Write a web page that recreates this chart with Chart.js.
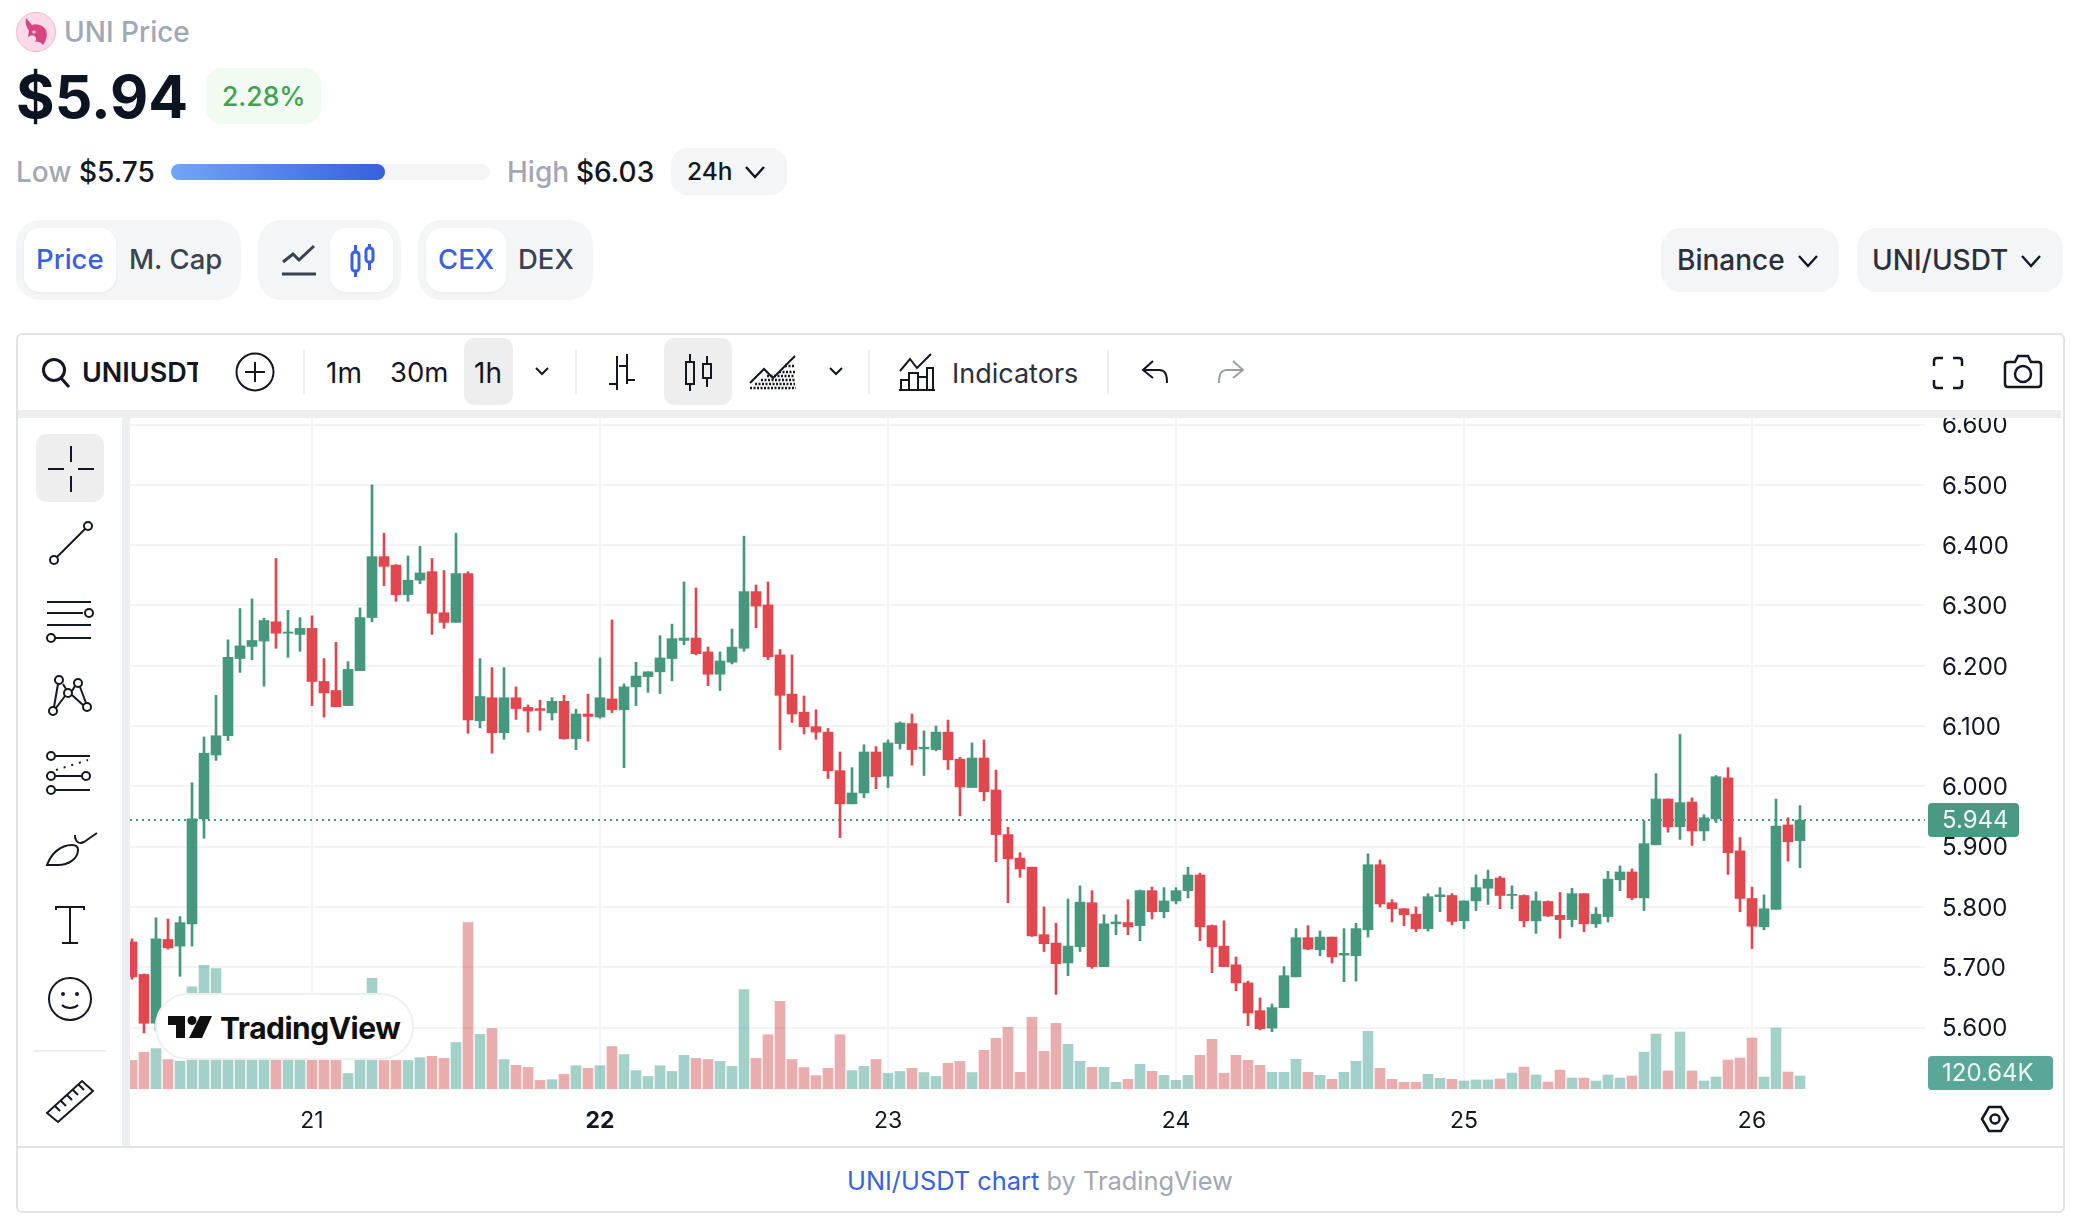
<!DOCTYPE html>
<html>
<head>
<meta charset="utf-8">
<title>UNI Price</title>
<script src="https://cdn.jsdelivr.net/npm/chart.js@4"></script>
<style>
  html, body { margin: 0; padding: 0; background: #fff; }
  body { width: 2078px; height: 1226px; position: relative; overflow: hidden; font-family: Inter, "Noto Sans", sans-serif; color: #131722; }
  .a { position: absolute; white-space: nowrap; }
  .t { position: absolute; white-space: nowrap; line-height: 1; transform: translateY(-50%); }
  .g { color: #a1a7b3; }
  .blue { color: #3861e0; }
  .pill { position: absolute; background: #f3f5f7; }
  .on { position: absolute; background: #fff; border-radius: 16px; box-shadow: 0 1px 3px rgba(0,0,0,.05); }
  .sep { position: absolute; width: 2px; background: #eff0f2; top: 350px; height: 44px; }
  svg.i { position: absolute; fill: none; stroke: #131722; stroke-width: 2; overflow: visible; }
  #wrap { position: absolute; left: 130px; top: 418px; width: 1925px; height: 728px; }
</style>
</head>
<body>

<!-- cabecalho -->
<svg class="i" style="left:16px;top:12px;stroke:none" width="40" height="40" viewBox="0 0 40 40">
  <circle cx="20" cy="20" r="19.500" fill="#fbd9e9" stroke="#f3b6d3" stroke-width="1"/>
  <path d="M10 6l6 7c5-2 11 0 14 5 2 5 0 11-3 15-2-3-5-4-8-3 2-3 1-6-3-7l-4 2 1-6c-3-4-4-9-3-13z" fill="#d6457f"/>
  <circle cx="18" cy="20" r="1.600" fill="#fbd9e9"/>
</svg>
<div class="t g" style="left:64px;top:32px;font-size:28px;font-weight:500">UNI Price</div>
<div class="t" style="left:16px;top:96px;font-size:59px;font-weight:700;color:#0d1421">$5.94</div>
<div class="pill" style="left:206px;top:68px;width:115px;height:56px;border-radius:16px;background:#f0fbf1"></div>
<div class="t" style="left:222px;top:96px;font-size:26.5px;font-weight:500;color:#3fa34d">2.28%</div>

<div class="t g" style="left:16px;top:172px;font-size:28px;font-weight:500">Low</div>
<div class="t" style="left:79px;top:172px;font-size:28px;font-weight:500">$5.75</div>
<div class="pill" style="left:171px;top:164px;width:319px;height:16px;border-radius:8px"></div>
<div class="a" style="left:171px;top:164px;width:214px;height:16px;border-radius:8px;background:linear-gradient(90deg,#72a6f6,#3760dc)"></div>
<div class="t g" style="left:507px;top:172px;font-size:28px;font-weight:500">High</div>
<div class="t" style="left:576px;top:172px;font-size:28px;font-weight:500">$6.03</div>
<div class="pill" style="left:671px;top:148px;width:116px;height:47px;border-radius:16px"></div>
<div class="t" style="left:687px;top:171px;font-size:24.500px;font-weight:500">24h</div>
<svg class="i" style="left:744px;top:165px" width="22" height="14"><path d="M2 2l9 10 9-10" stroke-width="2.400"/></svg>

<!-- abas -->
<div class="pill" style="left:16px;top:220px;width:225px;height:80px;border-radius:24px"></div>
<div class="on" style="left:24px;top:228px;width:92px;height:64px"></div>
<div class="t blue" style="left:36px;top:260px;font-size:27.500px;font-weight:500">Price</div>
<div class="t" style="left:129px;top:260px;font-size:27.500px;font-weight:500;color:#3b4250">M. Cap</div>

<div class="pill" style="left:258px;top:220px;width:143px;height:80px;border-radius:24px"></div>
<div class="on" style="left:330px;top:228px;width:63px;height:64px"></div>
<svg class="i" style="left:281px;top:244px;stroke:#3b4250;stroke-width:3" width="36" height="32"><path d="M2 18l10-8 6 6L33 2M1 30h34"/></svg>
<svg class="i" style="left:350px;top:244px;stroke:#3861e0;stroke-width:3" width="26" height="34">
  <rect x="2" y="8" width="7" height="19" rx="3"/><rect x="16" y="4" width="7" height="14" rx="3"/><path d="M5.500 1v7M5.500 27v6M19.500 0v4M19.500 18v8"/>
</svg>

<div class="pill" style="left:418px;top:220px;width:175px;height:80px;border-radius:24px"></div>
<div class="on" style="left:426px;top:228px;width:80px;height:64px"></div>
<div class="t blue" style="left:438px;top:260px;font-size:27.500px;font-weight:500">CEX</div>
<div class="t" style="left:518px;top:260px;font-size:27.500px;font-weight:500;color:#3b4250">DEX</div>

<div class="pill" style="left:1661px;top:228px;width:178px;height:64px;border-radius:20px"></div>
<div class="t" style="left:1677px;top:260px;font-size:28px;font-weight:500;color:#2a303c">Binance</div>
<svg class="i" style="left:1797px;top:254px" width="22" height="14"><path d="M2 2l9 10 9-10" stroke-width="2.400"/></svg>
<div class="pill" style="left:1857px;top:228px;width:206px;height:64px;border-radius:20px"></div>
<div class="t" style="left:1872px;top:260px;font-size:28px;font-weight:500;color:#2a303c">UNI/USDT</div>
<svg class="i" style="left:2020px;top:254px" width="22" height="14"><path d="M2 2l9 10 9-10" stroke-width="2.400"/></svg>

<!-- caixa do grafico -->
<div class="a" style="left:16px;top:333px;width:2045px;height:876px;border:2px solid #e0e3e6;border-radius:6px"></div>
<div id="wrap"><canvas id="graficoUni"></canvas></div>
<div class="a" style="left:18px;top:410px;width:2043px;height:8px;background:#eceef0"></div>
<div class="a" style="left:122px;top:410px;width:8px;height:736px;background:#eceef0"></div>
<div class="a" style="left:18px;top:1146px;width:2045px;height:2px;background:#e0e3e6"></div>

<!-- barra superior -->
<svg class="i" style="left:42px;top:358px;stroke-width:3" width="28" height="30"><circle cx="12" cy="12" r="10.500"/><path d="M19 20l8 9"/></svg>
<div class="a" style="left:82px;top:357px;width:116px;height:32px;overflow:hidden;font-size:27px;line-height:32px;font-weight:600">UNIUSDT</div>
<svg class="i" style="left:236px;top:353px" width="38" height="38"><circle cx="19" cy="19" r="18.500"/><path d="M19 9v20M9 19h20"/></svg>
<div class="sep" style="left:303px"></div>
<div class="t" style="left:326px;top:373px;font-size:28px">1m</div>
<div class="t" style="left:390px;top:373px;font-size:27.500px">30m</div>
<div class="a" style="left:464px;top:338px;width:49px;height:67px;border-radius:10px;background:#eeeeee"></div>
<div class="t" style="left:474px;top:373px;font-size:28px">1h</div>
<svg class="i" style="left:535px;top:367px" width="14" height="9"><path d="M1 1l6 6 6-6"/></svg>
<div class="sep" style="left:575px"></div>
<svg class="i" style="left:605px;top:354px" width="32" height="38"><path d="M12 2v34M22 0v30M4 30h8M22 12h-8M22 26h8"/></svg>
<div class="a" style="left:664px;top:338px;width:68px;height:67px;border-radius:10px;background:#eeeeee"></div>
<svg class="i" style="left:685px;top:352px" width="28" height="40"><rect x="1" y="10" width="8" height="22"/><rect x="18" y="12" width="8" height="14"/><path d="M5 2v8M5 32v7M22 4v8M22 26v9"/></svg>
<svg class="i" style="left:749px;top:353px" width="48" height="36"><path d="M1 30l14-14 9 9L46 3"/><path d="M1 35h46M6 31h40M12 27h34M18 23h28M30 19h16M36 13h10" stroke-width="2.500" stroke-dasharray="2 1.500"/></svg>
<svg class="i" style="left:829px;top:367px" width="14" height="9"><path d="M1 1l6 6 6-6"/></svg>
<div class="sep" style="left:868px"></div>
<svg class="i" style="left:899px;top:353px" width="36" height="38"><path d="M1 18l10-12 7 9L32 1"/><path d="M2 37V27h8v10M10 37V20h9v17M19 37V24h9v13M28 37V15h6v22M0 37h36"/></svg>
<div class="t" style="left:952px;top:373px;font-size:27px;color:#2a303c">Indicators</div>
<div class="sep" style="left:1107px"></div>
<svg class="i" style="left:1141px;top:359px" width="28" height="26"><path d="M12 2L2 11l10 8M2 11h16c6 0 8 4 8 13"/></svg>
<svg class="i" style="left:1217px;top:359px;stroke:#9aa0aa" width="28" height="26"><path d="M16 2l10 9-10 8M26 11H10c-6 0-8 4-8 13"/></svg>
<svg class="i" style="left:1932px;top:356px;stroke-width:2.500" width="32" height="34"><path d="M2 10V5q0-3 3-3h6M21 2h6q3 0 3 3v5M30 24v5q0 3-3 3h-6M11 32H5q-3 0-3-3v-5"/></svg>
<svg class="i" style="left:2003px;top:354px;stroke-width:2.500" width="40" height="36"><path d="M2 11q0-3 3-3h7l3-6h10l3 6h7q3 0 3 3v19q0 3-3 3H5q-3 0-3-3z"/><circle cx="20" cy="20" r="8"/></svg>

<!-- barra lateral -->
<div class="a" style="left:36px;top:434px;width:68px;height:68px;border-radius:10px;background:#eeeeee"></div>
<svg class="i" style="left:48px;top:446px" width="46" height="46"><path d="M23 0v16M23 30v16M0 23h16M30 23h16"/></svg>
<svg class="i" style="left:48px;top:520px" width="46" height="46"><circle cx="6" cy="40" r="4"/><circle cx="40" cy="6" r="4"/><path d="M9 37L37 9"/></svg>
<svg class="i" style="left:45px;top:600px" width="50" height="42"><path d="M2 2h44M2 13h36M2 25h44M10 38h36"/><circle cx="44" cy="13" r="4"/><circle cx="6" cy="38" r="4"/></svg>
<svg class="i" style="left:47px;top:674px" width="46" height="44"><circle cx="12" cy="6" r="4"/><circle cx="31" cy="9" r="4"/><circle cx="21" cy="19" r="4"/><circle cx="6" cy="37" r="4"/><circle cx="40" cy="33" r="4"/><path d="M11 10L7 33M9 34L18 22M16 10L19 15M25 17L28 12M33 13L39 29M25 21L36 31"/></svg>
<svg class="i" style="left:46px;top:752px" width="48" height="44"><circle cx="5" cy="4" r="4"/><circle cx="5" cy="24" r="4"/><circle cx="5" cy="38" r="4"/><circle cx="40" cy="24" r="4"/><path d="M10 4h34M10 24h26M10 38h34"/><path d="M10 18L42 8" stroke-dasharray="2 6"/></svg>
<svg class="i" style="left:46px;top:830px" width="52" height="40"><path d="M1 35C5 24 14 15 26 15c4 0 6 2 6 5 0 9-10 15-20 15z"/><path d="M29 5c0 8 5 9 9 7L51 3"/></svg>
<svg class="i" style="left:55px;top:905px" width="30" height="40"><path d="M1 5V2h28v3M15 2v36M7 38h16"/></svg>
<svg class="i" style="left:48px;top:977px" width="44" height="44"><circle cx="22" cy="22" r="21"/><circle cx="15" cy="17" r="1" /><circle cx="29" cy="17" r="1"/><path d="M14 28c4 4 12 4 16 0"/></svg>
<div class="a" style="left:34px;top:1050px;width:72px;height:2px;background:#eceef0"></div>
<svg class="i" style="left:46px;top:1079px" width="48" height="44"><path d="M1 34L36 2l11 10-35 31zM9 27l5 5M15 22l5 5M21 16l5 5M27 11l5 5M33 6l5 5"/></svg>

<!-- marca d'agua -->
<div class="a" style="left:155px;top:993px;width:255px;height:63px;background:#fff;border:2px solid #eeeff1;border-radius:33px"></div>
<svg class="i" style="left:168px;top:1016px;stroke:none" width="44" height="22" viewBox="0 0 44 22"><path d="M0 0h17v22H8V9H0zM32 0h12l-10 22H21z" fill="#0f0f0f"/><circle cx="24" cy="4.500" r="4.500" fill="#0f0f0f"/></svg>
<div class="t" style="left:220px;top:1028px;font-size:30px;font-weight:700;letter-spacing:-.5px;color:#0f0f0f">TradingView</div>

<!-- engrenagem -->
<svg class="i" style="left:1981px;top:1106px;stroke-width:2.500" width="28" height="26"><path d="M1 13L8 1h12l7 12-7 12H8z"/><circle cx="14" cy="13" r="4.500"/></svg>

<!-- rodape -->
<div class="t" style="left:847px;top:1181px;font-size:25.400px"><span class="blue">UNI/USDT chart</span> <span class="g">by TradingView</span></div>

<script>
// rotulos dos eixos
const dayPositions = [15, 39, 63, 87, 111, 135];
const dayLabels = ["21", "22", "23", "24", "25", "26"];
const priceTicks = [5.6, 5.7, 5.8, 5.9, 6.0, 6.1, 6.2, 6.3, 6.4, 6.5, 6.6];

// velas de 1h
const opens = [5.742,5.688,5.607,5.746,5.735,5.772,5.946,6.052,6.084,6.212,6.232,6.241,6.273,6.254,6.252,6.262,6.174,6.159,6.134,6.192,6.280,6.381,6.367,6.318,6.342,6.356,6.288,6.272,6.353,6.109,6.147,6.089,6.147,6.131,6.129,6.122,6.141,6.079,6.120,6.115,6.145,6.127,6.165,6.182,6.190,6.212,6.242,6.246,6.223,6.186,6.206,6.229,6.323,6.301,6.218,6.153,6.123,6.099,6.090,6.026,5.971,5.989,6.057,6.017,6.071,6.104,6.062,6.061,6.090,6.045,5.998,6.047,5.994,5.920,5.881,5.866,5.754,5.740,5.707,5.734,5.807,5.701,5.772,5.774,5.769,5.827,5.792,5.810,5.827,5.853,5.769,5.735,5.704,5.674,5.628,5.599,5.633,5.684,5.749,5.729,5.750,5.720,5.719,5.762,5.870,5.807,5.797,5.788,5.764,5.817,5.819,5.777,5.810,5.831,5.848,5.819,5.819,5.777,5.809,5.786,5.779,5.822,5.772,5.784,5.845,5.858,5.815,5.903,5.979,5.933,5.974,5.926,5.946,6.014,5.893,5.814,5.767,5.796,5.936,5.910];
const highs = [5.747,5.689,5.782,5.780,5.784,6.006,6.082,6.151,6.243,6.295,6.311,6.279,6.378,6.292,6.280,6.283,6.212,6.239,6.207,6.296,6.500,6.420,6.368,6.382,6.398,6.378,6.358,6.420,6.356,6.212,6.197,6.197,6.165,6.135,6.143,6.147,6.151,6.128,6.153,6.213,6.276,6.170,6.206,6.190,6.250,6.269,6.339,6.329,6.231,6.223,6.261,6.415,6.334,6.339,6.227,6.218,6.150,6.127,6.096,6.057,6.031,6.069,6.066,6.077,6.107,6.120,6.092,6.100,6.110,6.048,6.072,6.077,6.027,5.932,5.890,5.866,5.800,5.773,5.813,5.835,5.827,5.787,5.787,5.812,5.828,5.833,5.832,5.832,5.866,5.856,5.770,5.777,5.717,5.677,5.649,5.639,5.701,5.764,5.769,5.760,5.750,5.764,5.773,5.888,5.878,5.812,5.797,5.800,5.822,5.832,5.822,5.810,5.853,5.861,5.851,5.835,5.820,5.825,5.810,5.824,5.831,5.822,5.799,5.859,5.868,5.863,5.943,6.021,5.979,6.086,5.981,5.953,6.018,6.031,5.915,5.833,5.820,5.979,5.948,5.968];
const lows = [5.680,5.591,5.595,5.730,5.685,5.735,5.914,6.043,6.076,6.189,6.210,6.166,6.229,6.214,6.224,6.134,6.115,6.132,6.134,6.192,6.273,6.333,6.307,6.307,6.336,6.252,6.262,6.272,6.088,6.097,6.055,6.078,6.111,6.090,6.093,6.110,6.078,6.061,6.075,6.113,6.122,6.031,6.134,6.156,6.154,6.175,6.235,6.218,6.167,6.159,6.203,6.224,6.263,6.210,6.061,6.106,6.087,6.078,6.013,5.915,5.971,5.981,5.996,5.998,6.062,6.035,6.018,6.059,6.028,5.951,5.998,5.976,5.875,5.807,5.849,5.751,5.726,5.655,5.686,5.726,5.698,5.701,5.754,5.754,5.744,5.780,5.782,5.805,5.815,5.744,5.691,5.701,5.661,5.603,5.596,5.593,5.633,5.684,5.729,5.719,5.707,5.676,5.677,5.750,5.800,5.775,5.769,5.759,5.760,5.792,5.770,5.764,5.794,5.804,5.797,5.797,5.767,5.756,5.784,5.748,5.767,5.759,5.766,5.775,5.827,5.812,5.794,5.903,5.924,5.912,5.902,5.910,5.940,5.854,5.792,5.731,5.762,5.796,5.876,5.865];
const closes = [5.684,5.607,5.747,5.732,5.774,5.946,6.055,6.084,6.214,6.233,6.242,6.275,6.254,6.256,6.262,6.174,6.155,6.132,6.194,6.280,6.381,6.365,6.318,6.342,6.354,6.287,6.272,6.353,6.110,6.149,6.089,6.147,6.129,6.125,6.126,6.141,6.079,6.120,6.116,6.147,6.127,6.165,6.183,6.190,6.213,6.245,6.246,6.220,6.186,6.208,6.231,6.323,6.299,6.215,6.151,6.120,6.099,6.090,6.026,5.971,5.989,6.057,6.016,6.072,6.105,6.061,6.065,6.090,6.044,5.999,6.047,5.991,5.920,5.880,5.863,5.752,5.739,5.706,5.735,5.808,5.701,5.772,5.775,5.767,5.827,5.792,5.810,5.827,5.853,5.767,5.734,5.701,5.674,5.624,5.598,5.633,5.686,5.749,5.730,5.750,5.717,5.723,5.764,5.870,5.805,5.797,5.787,5.764,5.817,5.820,5.776,5.810,5.832,5.846,5.819,5.821,5.777,5.810,5.785,5.779,5.822,5.772,5.788,5.846,5.858,5.815,5.905,5.979,5.933,5.973,5.926,5.948,6.016,5.890,5.814,5.768,5.797,5.934,5.908,5.944];
// volume em milhares
const volumes = [265,341,375,273,258,947,1148,1117,334,390,325,408,353,306,371,427,334,278,144,297,1026,265,265,265,291,303,284,432,1545,508,561,273,220,200,80,87,135,216,192,216,394,319,171,117,216,163,313,284,274,256,210,923,284,504,813,274,199,124,192,504,171,210,274,146,163,192,153,117,238,256,153,359,470,573,155,665,350,610,415,257,201,201,62,90,229,164,127,81,127,313,461,146,313,266,220,155,155,276,155,127,90,155,257,535,192,90,62,62,136,99,90,74,84,84,93,148,204,130,65,176,102,102,74,130,102,121,343,510,167,529,167,74,111,269,288,473,111,566,158,120.64];
const lastPrice = 5.944;
const lastVolume = "120.64K";

const verde = "#45987d";
const vermelho = "#e0474e";
const verdeVol = "rgba(51,153,137,.45)";
const vermelhoVol = "rgba(208,73,73,.45)";

const subiu = closes.map((c, i) => c >= opens[i]);
const corVela = subiu.map((s) => (s ? verde : vermelho));
const corVolume = subiu.map((s) => (s ? verdeVol : vermelhoVol));

const xMin = -0.1667;
const xMax = 149.417;

// etiquetas de preco e volume na escala da direita
const etiquetas = {
    id: "etiquetas",
    afterDatasetsDraw(chart) {
        const ctx = chart.ctx;
        const area = chart.chartArea;
        const yPreco = chart.scales.y.getPixelForValue(lastPrice);
        ctx.save();
        ctx.fillStyle = "#4a9a83";
        ctx.beginPath();
        ctx.roundRect(area.right + 3, yPreco - 17, 91, 34, 4);
        ctx.fill();
        ctx.fillStyle = "#5aa79a";
        ctx.beginPath();
        ctx.roundRect(area.right + 3, area.bottom - 33, 125, 34, 4);
        ctx.fill();
        ctx.fillStyle = "#eef8f5";
        ctx.font = "24px Inter";
        ctx.textBaseline = "middle";
        ctx.fillText(lastPrice.toFixed(3), area.right + 17, yPreco + 1);
        ctx.fillText(lastVolume, area.right + 17, area.bottom - 15);
        ctx.restore();
    }
};

new Chart(document.getElementById("graficoUni"), {
    type: "bar",
    data: {
        datasets: [
            {
                type: "line",
                data: [{ x: xMin, y: lastPrice }, { x: xMax, y: lastPrice }],
                borderColor: "#45987d",
                borderWidth: 2,
                borderDash: [2, 4],
                pointRadius: 0,
                yAxisID: "y",
                order: 3
            },
            {
                data: volumes.map((v, i) => ({ x: i, y: v })),
                backgroundColor: corVolume,
                barThickness: 10,
                grouped: false,
                yAxisID: "yVol",
                order: 4
            },
            {
                data: highs.map((h, i) => ({ x: i, y: [lows[i], h] })),
                backgroundColor: corVela,
                barThickness: 2,
                grouped: false,
                yAxisID: "y",
                order: 2
            },
            {
                data: opens.map((o, i) => ({ x: i, y: [o, closes[i]] })),
                backgroundColor: corVela,
                barThickness: 10,
                grouped: false,
                yAxisID: "y",
                order: 1
            }
        ]
    },
    options: {
        responsive: true,
        maintainAspectRatio: false,
        animation: false,
        layout: { padding: 0 },
        plugins: { legend: { display: false }, tooltip: { enabled: false } },
        scales: {
            x: {
                type: "linear",
                offset: false,
                min: xMin,
                max: xMax,
                border: { display: false },
                grid: { color: "#f2f3f5", lineWidth: 2, drawTicks: false, offset: false },
                afterBuildTicks(scale) {
                    scale.ticks = dayPositions.map((v) => ({ value: v }));
                },
                afterFit(scale) {
                    scale.height = 57;
                    scale.paddingLeft = 0;
                    scale.paddingRight = 0;
                },
                ticks: {
                    autoSkip: false,
                    maxRotation: 0,
                    padding: 18,
                    color: "#131722",
                    font: (c) => ({ family: "Inter", size: 23, weight: c.tick && c.tick.value === 39 ? "700" : "400" }),
                    callback: (v, i) => dayLabels[i]
                }
            },
            y: {
                position: "right",
                min: 5.498,
                max: 6.611,
                border: { display: false },
                grid: { color: "#f2f3f5", lineWidth: 2, drawTicks: false },
                afterBuildTicks(scale) {
                    scale.ticks = priceTicks.map((v) => ({ value: v }));
                },
                afterFit(scale) {
                    scale.width = 130;
                    scale.paddingTop = 0;
                    scale.paddingBottom = 0;
                },
                ticks: {
                    padding: 17,
                    labelOffset: 1.5,
                    color: "#131722",
                    font: { family: "Inter", size: 24 },
                    callback: (v) => v.toFixed(3)
                }
            },
            yVol: {
                display: false,
                min: 0,
                max: 6227
            }
        }
    },
    plugins: [etiquetas]
});
</script>
</body>
</html>
